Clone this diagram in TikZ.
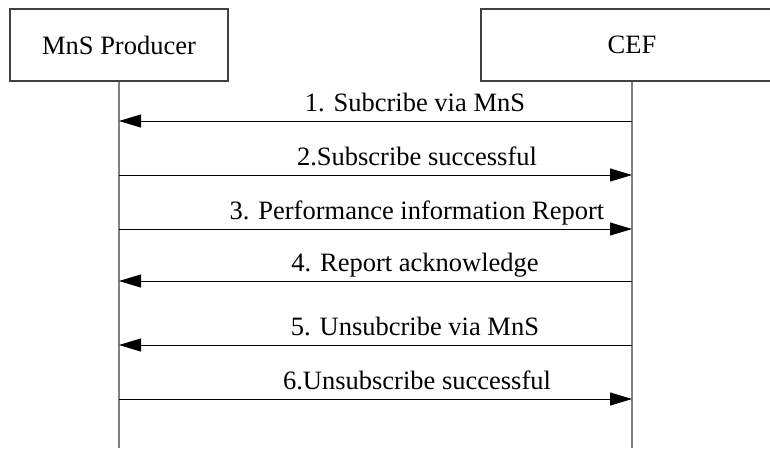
\documentclass[tikz,border=0pt]{standalone}
\usepackage{fontspec}
\setmainfont{Liberation Serif}
\usetikzlibrary{arrows.meta}

\begin{document}
\begin{tikzpicture}[x=1pt,y=-1pt,
  entity/.style={draw=black!75,line width=1.2pt,minimum height=72pt,inner sep=0pt,
    font=\fontsize{26.5}{30}\selectfont},
  lifeline/.style={draw=black!50,line width=1.5pt},
  msg/.style={line width=1pt,-{Triangle[length=22pt,width=13pt]}},
  lbl/.style={anchor=base,inner sep=0pt,font=\fontsize{26.5}{30}\selectfont}]
        \useasboundingbox (0,0) rectangle (770,448);
        \node[entity,minimum width=218pt] (prod) at (119,45) {MnS Producer};
        \node[entity,minimum width=302pt] (cef) at (632,45) {CEF};
        \coordinate (prodend) at (119,448);
        \coordinate (cefend) at (632,448);
        \draw[lifeline] (prod.south) -- (prodend);
        \draw[lifeline] (cef.south) -- (cefend);
        % CEF -> MnS Producer
        \foreach \i/\y/\t in {%
          1/121/{1. Subcribe via MnS},
          4/281/{4. Report acknowledge},
          5/345/{5. Unsubcribe via MnS}} {
            \coordinate (p\i) at (119,\y);
            \coordinate (c\i) at (632,\y);
            \draw[msg] (c\i) -- (p\i);
            \node[lbl] (l\i) at (415,\y-10) {\t};
        }
        % MnS Producer -> CEF
        \foreach \i/\y/\t in {%
          2/175/{2.Subscribe successful},
          3/229/{3. Performance information Report},
          6/399/{6.Unsubscribe successful}} {
            \coordinate (p\i) at (119,\y);
            \coordinate (c\i) at (632,\y);
            \draw[msg] (p\i) -- (c\i);
            \node[lbl] (l\i) at (417,\y-10) {\t};
        }
        \end{tikzpicture}
\end{document}
